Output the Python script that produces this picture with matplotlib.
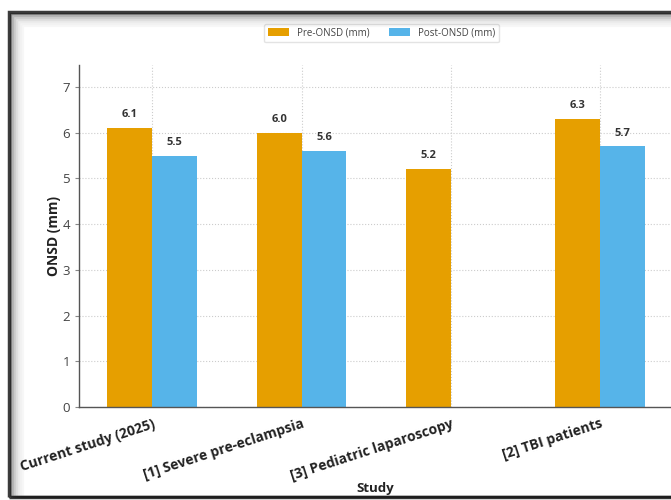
import matplotlib.pyplot as plt
import matplotlib.patches as mpatches
import numpy as np

studies = [
    "Current study (2025)",
    "[1] Severe pre-eclampsia",
    "[3] Pediatric laparoscopy",
    "[2] TBI patients",
]
pre_onsd = [6.1, 6.0, 5.2, 6.3]
post_onsd = [5.5, 5.6, None, 5.7]

pre_color = "#E69F00"
post_color = "#56B4E9"
width = 0.3

plt.rcParams["font.family"] = ["Open Sans", "DejaVu Sans"]

fig = plt.figure(figsize=(6.71, 5.0), dpi=100)
ax = fig.add_axes([79 / 671, 93 / 500, (672 - 79) / 671, (407 - 65) / 500])

x = np.arange(len(studies))
pre_bars = ax.bar(x - width / 2, pre_onsd, width, color=pre_color, label="Pre-ONSD (mm)", zorder=2)
post_x = [xi + width / 2 for xi, v in zip(x, post_onsd) if v is not None]
post_vals = [v for v in post_onsd if v is not None]
post_bars = ax.bar(post_x, post_vals, width, color=post_color, label="Post-ONSD (mm)", zorder=2)

# value labels over every bar
for bars in (pre_bars, post_bars):
    for b in bars:
        h = b.get_height()
        ax.text(b.get_x() + b.get_width() / 2, h + 0.17, f"{h:.1f}",
                ha="center", va="bottom", fontsize=8, fontweight="bold", color="#333333")

ax.set_xlim(-0.49, 3.48)
ax.set_ylim(0, 7.48)
ax.set_xticks(x)
ax.set_xticklabels(studies, rotation=18, ha="right", rotation_mode="anchor",
                   fontsize=10, fontweight="bold", color="#222222")
ax.set_yticks(range(8))
ax.tick_params(axis="y", labelsize=9.5, labelcolor="#444444", length=3, color="#888888")
ax.tick_params(axis="x", length=0, pad=7)

ax.set_ylabel("ONSD (mm)", fontsize=10, fontweight="bold", color="#222222", labelpad=1)
ax.set_xlabel("Study", fontsize=9.5, fontweight="bold", color="#222222")
ax.xaxis.set_label_coords(0.5, -0.218)

ax.grid(True, linestyle=":", color="#cccccc", linewidth=0.8, zorder=0)
ax.set_axisbelow(True)
for side in ("top", "right"):
    ax.spines[side].set_visible(False)
for side in ("left", "bottom"):
    ax.spines[side].set_color("#555555")
    ax.spines[side].set_linewidth(1.0)

ax.legend(loc="upper center", bbox_to_anchor=(0.51, 1.135), ncol=2, fontsize=7,
          frameon=True, edgecolor="#dddddd", handlelength=2.2, handleheight=0.8,
          columnspacing=2.0, labelcolor="#444444")

# dark screen frame with soft inner shadow
W, H = 671, 500
for i, alpha in enumerate([0.85, 0.45, 0.3, 0.2, 0.13, 0.08, 0.05, 0.03]):
    off = 9 + i * 2
    lw = 2.5 if i == 0 else 1.6
    rect = mpatches.Rectangle((off / W, 3 / H), (W + 20 - off) / W,
                              (H - 12 - 3 - i * 2) / H,
                              transform=fig.transFigure, fill=False,
                              edgecolor=(0.1, 0.1, 0.1, alpha), linewidth=lw)
    fig.patches.append(rect)

fig.savefig("out.png", dpi=100)
